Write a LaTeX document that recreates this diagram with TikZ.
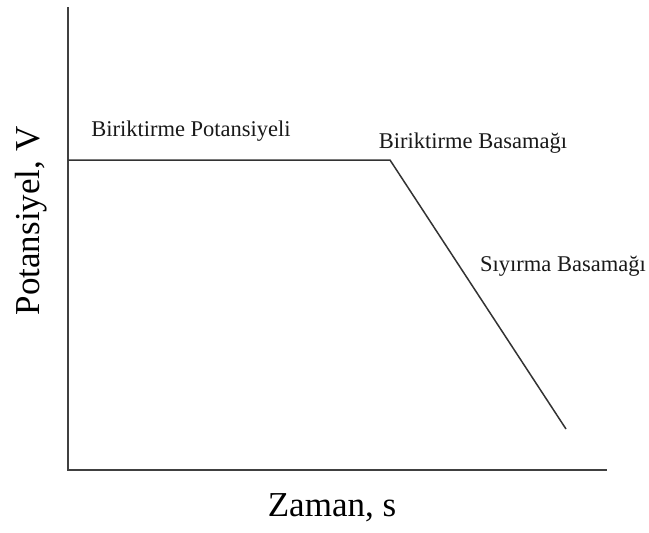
\documentclass[tikz,border=0pt]{standalone}
\usepackage{fontspec}
\setmainfont{Liberation Serif}
\begin{document}
\begin{tikzpicture}[x=1pt,y=-1pt,
  axisline/.style={draw=black!75,line width=2pt},
  stepline/.style={draw=black!80,line width=1.5pt},
  steplabel/.style={font=\fontsize{22.5}{26}\selectfont,text=black!90,inner sep=0pt},
  axislabel/.style={font=\fontsize{35}{40}\selectfont,inner sep=0pt}]
  \useasboundingbox (0,0) rectangle (649,533);
  % axes
  \coordinate (top) at (68,7);
  \coordinate (origin) at (68,470);
  \coordinate (right) at (607,470);
  \draw[axisline] (top) -- (origin) -- (right);
  % potential steps
  \coordinate (start) at (68,160);
  \coordinate (knee) at (390,160);
  \coordinate (end) at (566,429);
  \draw[stepline,line join=miter] (start) -- (knee) -- (end);
  \node[steplabel] (deposit) at (191,131) {Biriktirme Potansiyeli};
  \node[steplabel] (depstep) at (473,143) {Biriktirme Basamağı};
  \node[steplabel] (stripstep) at (563,266) {Sıyırma Basamağı};
  \node[axislabel] (timelabel) at (332,508) {Zaman, s};
  \node[axislabel,rotate=90] (potlabel) at (31,221) {Potansiyel, V};
\end{tikzpicture}
\end{document}
